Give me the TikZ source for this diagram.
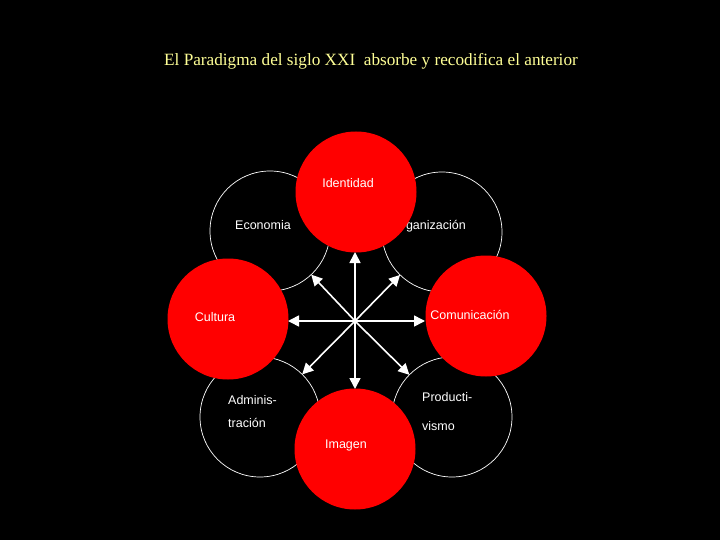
\documentclass[tikz,border=0pt]{standalone}
\usepackage{fontspec}
\setmainfont{Liberation Serif}
\newfontfamily\lblfont{Liberation Sans}
\usetikzlibrary{arrows.meta}
\definecolor{titley}{RGB}{255,255,150}
\definecolor{redc}{RGB}{255,0,0}
\tikzset{
  whitecirc/.style={circle, draw=white, line width=0.7pt, minimum size=120pt, inner sep=0pt, outer sep=0pt},
  redcirc/.style={circle, fill=redc, minimum size=121pt, inner sep=0pt, outer sep=0pt},
  lbl/.style={text=white, font=\lblfont\fontsize{12.5}{15}\selectfont, inner sep=0pt},
  arr/.style={draw=white, line width=1.6pt, -{Triangle[length=11pt,width=11pt]}}
}
\begin{document}
\begin{tikzpicture}[x=1pt,y=-1pt]
\fill[black] (0,0) rectangle (720,540);
\useasboundingbox (0,0) rectangle (720,540);
% title
\node[text=titley, font=\fontsize{17.2}{20}\selectfont, inner sep=0pt] (title) at (371,61) {El Paradigma del siglo XXI\ \ absorbe y recodifica el anterior};
% white circles
\node[whitecirc] (eco) at (270,231) {};
\node[whitecirc] (org) at (442,232) {};
\node[whitecirc] (adm) at (260,417) {};
\node[whitecirc] (pro) at (452,417) {};
\node[lbl] (ecol) at (263,225) {Economia};
\node[lbl, anchor=east] (orgl) at (466,226) {Organización};
\node[lbl, anchor=west] (adml1) at (228,400) {Adminis-};
\node[lbl, anchor=west] (adml2) at (228,423) {tración};
\node[lbl, anchor=west] (prol1) at (422,397) {Producti-};
\node[lbl, anchor=west] (prol2) at (422,426) {vismo};
% red circles
\node[redcirc] (ide) at (356,192) {};
\node[redcirc] (cul) at (228,319) {};
\node[redcirc] (com) at (486,316) {};
\node[redcirc] (ima) at (355,449) {};
\node[lbl] (idel) at (348,183) {Identidad};
\node[lbl] (cull) at (215,317) {Cultura};
\node[lbl] (coml) at (470,315) {Comunicación};
\node[lbl] (imal) at (346,445) {Imagen};
% arrows
\coordinate (c) at (355,321);
\coordinate (tu) at (355,252);
\coordinate (td) at (355,389);
\coordinate (tl) at (288,321);
\coordinate (tr) at (425,321);
\draw[arr] (c) -- (tu);
\draw[arr] (c) -- (td);
\draw[arr] (c) -- (tl);
\draw[arr] (c) -- (tr);
\draw[arr] (c) -- (eco);
\draw[arr] (c) -- (org);
\draw[arr] (c) -- (adm);
\draw[arr] (c) -- (pro);
\end{tikzpicture}
\end{document}
